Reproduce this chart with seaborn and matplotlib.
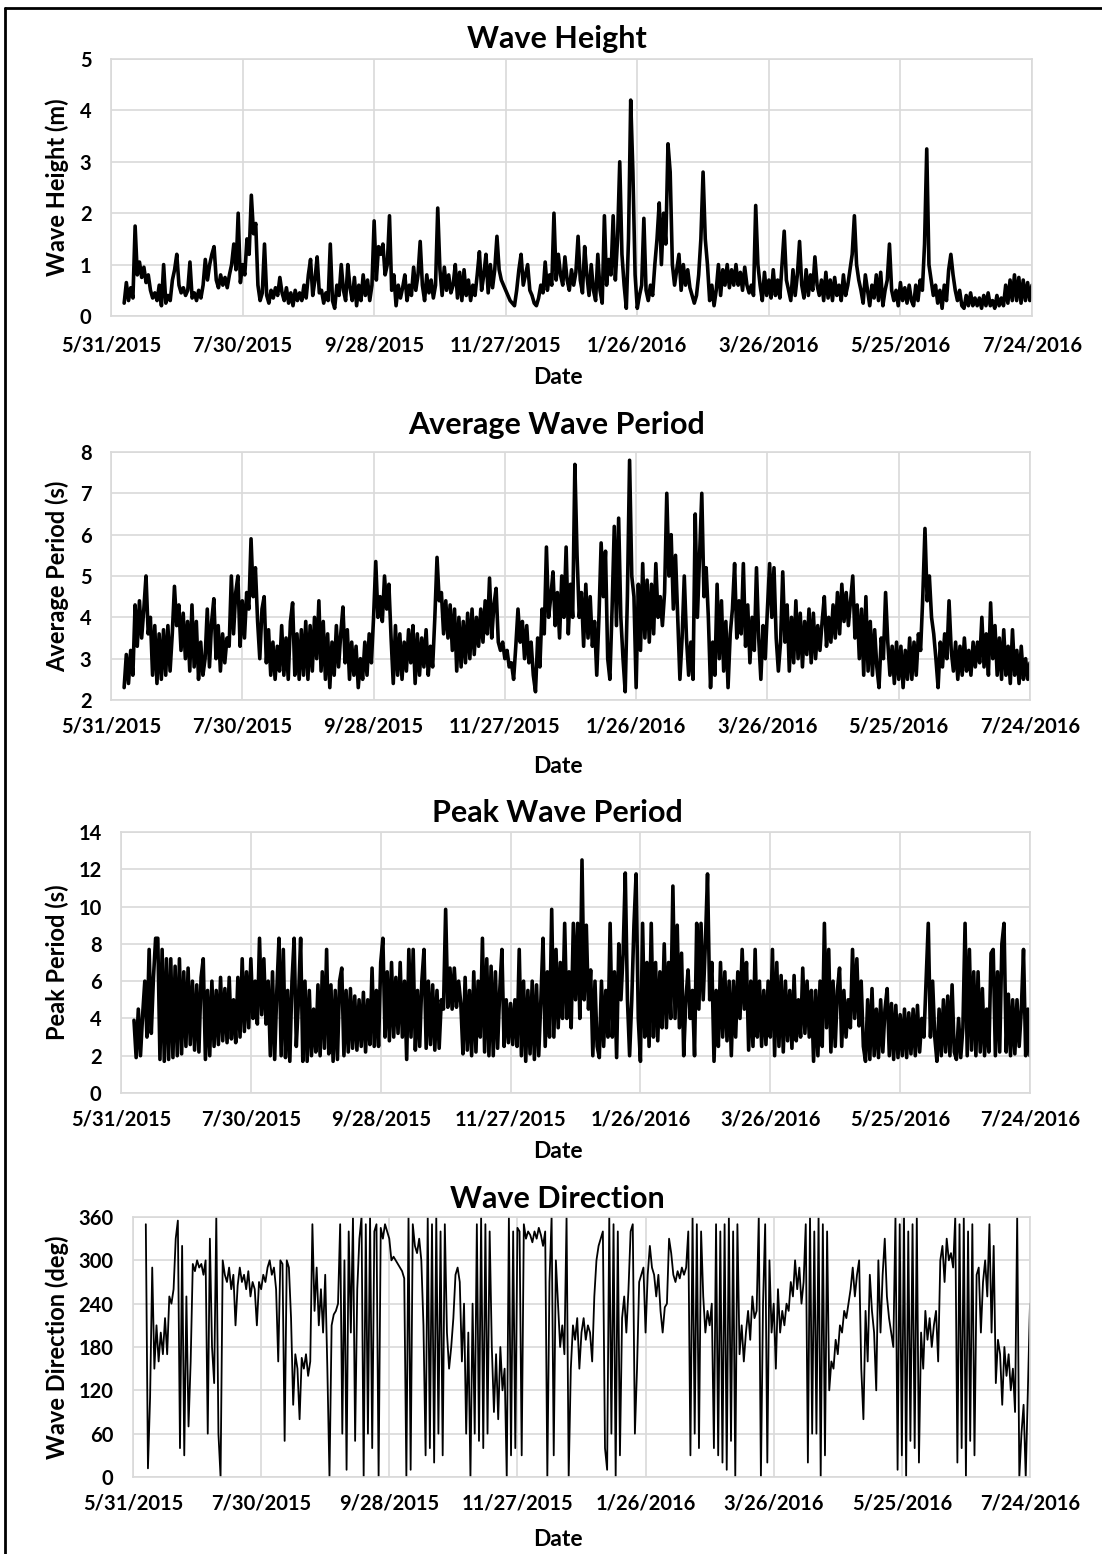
import numpy as np
import pandas as pd
import matplotlib
matplotlib.use("Agg")
import matplotlib.pyplot as plt
import seaborn as sns

# ---------------- data (one value per day from 6/6/2015) -------------
series_start = "2015-06-06"
step_hours = 24

wave_height = [
    0.25,0.65,0.3,0.55,0.35,1.75,0.8,1.05,0.75,0.95, 0.65,0.8,0.5,0.35,0.45,0.3,0.6,0.2,1.0,0.25, 0.4,0.3,0.7,0.9,1.2,0.6,0.45,0.55,0.4,0.5,
    1.05,0.35,0.45,0.3,0.5,0.35,0.6,1.1,0.7,1.0, 1.2,1.35,0.7,0.55,0.8,0.6,0.75,0.55,0.8,1.0, 1.4,0.9,2.0,0.65,1.0,0.8,1.5,1.2,2.35,1.6,
    1.8,0.6,0.3,0.45,1.4,0.4,0.25,0.5,0.35,0.55, 0.4,0.75,0.45,0.3,0.55,0.25,0.45,0.2,0.5,0.3, 0.45,0.3,0.6,0.35,0.8,1.1,0.4,0.7,1.15,0.45,
    0.5,0.25,0.45,0.3,1.4,0.3,0.15,0.6,0.4,1.0, 0.5,0.3,1.0,0.55,0.3,0.75,0.2,0.6,0.3,0.8, 0.4,0.7,0.3,0.6,1.85,0.7,1.35,1.2,1.4,0.8,
    1.0,1.95,0.5,0.8,0.2,0.6,0.35,0.55,0.8,0.3, 0.6,0.4,0.95,0.5,0.8,1.45,0.6,0.3,0.8,0.45, 0.7,0.35,0.6,2.1,0.9,0.4,0.95,0.5,0.8,0.45,
    0.6,1.0,0.35,0.85,0.3,0.9,0.4,0.7,0.3,0.6, 0.4,0.8,1.25,0.5,0.8,1.2,0.45,1.0,0.55,0.9, 1.55,0.9,0.7,0.6,0.5,0.4,0.3,0.25,0.2,0.5,
    0.9,1.2,0.6,0.8,1.0,0.5,0.4,0.25,0.2,0.35, 0.6,0.45,1.05,0.5,0.8,0.6,2.0,0.7,1.2,0.8, 0.6,1.15,0.7,0.5,0.9,0.6,0.85,1.55,0.7,0.45,
    1.35,0.8,0.4,1.0,0.5,0.3,1.2,0.5,0.25,1.95, 0.6,1.1,0.8,1.95,0.7,1.5,3.0,1.2,0.6,0.15, 1.5,4.2,2.8,0.8,0.15,0.4,0.6,1.9,0.5,0.3,
    0.6,0.4,1.0,1.5,2.2,1.0,2.0,1.4,3.35,2.8, 1.0,0.6,0.9,1.2,0.5,1.0,0.6,0.9,0.55,0.4, 0.25,0.4,0.8,1.5,2.8,1.5,1.0,0.3,0.6,0.2,
    0.5,1.0,0.4,0.9,0.6,1.0,0.55,0.9,0.6,1.0, 0.6,0.85,0.5,0.95,0.6,0.45,0.6,0.4,2.15,1.0, 0.6,0.3,0.85,0.4,0.7,0.35,0.9,0.4,0.7,0.35,
    1.0,1.65,0.7,0.5,0.3,0.9,0.4,0.8,1.45,0.6, 0.35,0.9,0.4,0.8,0.5,1.15,0.6,0.4,0.7,0.3, 0.85,0.35,0.7,0.3,0.75,0.4,0.6,0.3,0.8,0.4,
    0.6,0.9,1.2,1.95,1.0,0.7,0.5,0.25,0.8,0.5, 0.2,0.6,0.35,0.8,0.3,0.85,0.2,0.5,0.7,1.4, 0.5,0.3,0.5,0.2,0.65,0.3,0.55,0.25,0.6,0.3,
    0.2,0.6,0.3,0.7,0.5,1.4,3.25,1.0,0.7,0.4, 0.6,0.25,0.5,0.15,0.6,0.3,0.9,1.2,0.8,0.5, 0.3,0.5,0.2,0.15,0.4,0.2,0.45,0.2,0.35,0.2,
    0.35,0.15,0.4,0.2,0.45,0.2,0.3,0.15,0.4,0.2, 0.35,0.2,0.6,0.25,0.7,0.3,0.8,0.3,0.75,0.25, 0.7,0.3,0.65,0.3,0.6,
]

avg_period = [
    2.3,3.1,2.4,3.2,2.6,4.3,3.3,4.4,3.5,4.2, 5.0,3.6,4.0,2.6,3.8,2.4,3.6,2.5,3.7,2.6, 3.8,2.7,3.6,4.75,3.8,4.3,3.2,4.1,3.0,3.9,
    2.7,4.3,2.8,3.9,2.5,3.4,2.6,3.0,4.2,2.8, 3.9,4.45,3.0,3.8,2.7,3.6,2.9,3.5,3.3,5.0, 3.6,4.6,5.0,3.3,4.4,3.5,4.6,4.2,5.9,4.5,
    5.2,3.9,3.0,4.2,4.5,2.9,3.7,2.6,3.4,2.5, 3.3,2.7,3.8,2.6,3.5,2.5,3.9,4.35,2.6,3.6, 2.5,3.7,2.6,3.9,2.5,3.8,2.7,4.0,3.0,4.4,
    2.7,3.9,2.5,3.6,2.3,3.4,2.6,3.8,2.8,3.6, 4.25,2.9,3.7,2.5,3.4,2.6,3.3,2.3,3.0,2.5, 3.4,2.6,3.6,2.9,4.0,5.35,4.0,4.5,3.9,5.0,
    4.2,4.8,3.5,2.4,3.8,2.6,3.6,2.5,3.4,2.7, 3.7,2.9,3.8,2.4,3.6,2.6,3.5,2.8,3.7,2.6, 3.3,2.8,4.0,5.45,4.4,4.6,3.6,4.4,3.5,4.3,
    3.2,4.2,2.7,4.0,2.8,3.9,2.9,4.1,3.0,4.2, 3.1,4.0,3.3,4.2,3.4,4.4,3.6,4.95,3.5,4.3, 4.7,3.4,3.2,3.4,3.0,3.2,2.8,2.9,2.5,3.3,
    4.2,3.4,3.9,3.0,3.8,2.9,3.4,2.6,2.2,3.5, 2.8,4.2,3.6,5.7,4.0,4.5,5.1,3.8,4.6,3.5, 5.0,4.0,5.7,3.6,4.8,4.0,7.7,5.5,4.0,4.6,
    3.3,4.8,3.5,4.5,3.3,3.9,2.6,4.0,5.8,4.5, 5.6,3.0,2.5,4.2,6.2,3.8,6.4,4.0,3.0,2.2, 4.5,7.8,5.0,4.5,2.3,4.8,3.2,5.3,3.5,4.9,
    3.4,4.8,3.6,5.3,4.0,4.5,3.8,4.6,7.0,5.0, 6.0,4.2,5.5,4.0,2.5,3.5,5.0,3.5,2.6,3.4, 2.5,6.5,4.0,5.5,7.0,4.5,5.2,4.0,2.3,3.4,
    2.6,4.8,3.0,4.4,2.7,3.9,2.3,3.6,4.2,5.3, 3.5,4.4,3.6,5.3,3.3,4.3,2.9,4.0,3.2,5.2, 3.5,2.5,3.8,3.0,4.2,5.3,4.0,5.2,3.5,2.7,
    3.4,5.1,3.4,4.3,2.7,4.0,2.9,4.4,3.0,4.1, 2.8,3.9,3.1,4.2,2.9,4.1,3.0,3.8,3.2,3.9, 4.5,3.3,4.0,3.4,4.3,3.5,4.6,3.6,4.8,3.9,
    4.6,3.8,4.4,5.0,3.5,4.3,3.0,4.2,2.6,4.5, 2.7,3.9,2.6,3.7,2.8,2.3,3.5,3.0,4.6,3.4, 2.6,3.3,2.4,3.4,2.5,3.3,2.3,3.2,2.5,3.5,
    2.5,3.4,2.6,3.6,3.2,4.5,6.15,4.4,5.0,4.0, 3.6,3.0,2.3,3.4,2.8,3.6,3.0,4.4,3.2,2.7, 3.4,2.5,3.3,2.6,3.5,2.7,3.2,2.6,3.4,2.8,
    3.4,2.9,4.0,2.8,3.6,2.6,4.35,3.0,3.8,2.6, 3.5,2.5,3.7,2.6,3.3,2.4,3.7,2.6,3.2,2.4, 3.3,2.5,3.0,2.5,2.9,
]

peak_period = [
    3.9,1.9,4.5,2.0,4.2,6.0,3.0,7.7,3.2,6.2, 8.3,8.3,1.8,7.7,1.7,7.2,1.8,7.2,1.9,6.8, 2.0,7.2,2.1,6.5,2.5,6.7,2.6,6.0,2.3,5.8,
    2.2,6.2,7.2,1.8,5.5,2.0,6.0,2.5,5.5,2.6, 6.2,2.8,5.6,2.7,6.2,2.9,5.0,2.7,6.2,3.0, 7.2,3.3,6.5,3.5,7.2,4.0,6.0,3.7,8.3,4.2,
    7.2,3.7,6.0,2.0,6.5,1.8,5.5,8.3,2.0,7.7, 1.9,5.5,1.7,6.0,8.3,2.5,5.0,8.3,1.7,6.0, 1.7,5.5,2.0,4.5,2.2,5.8,2.0,6.5,2.4,7.7,
    2.1,5.8,1.7,5.5,1.8,6.0,6.7,2.0,5.5,2.2, 5.6,2.4,5.2,2.3,5.0,2.5,5.4,2.2,5.0,2.6, 6.7,2.5,5.5,2.5,7.0,8.3,3.0,6.5,2.8,7.0,
    3.0,6.2,3.2,7.0,3.0,6.0,1.8,7.7,3.0,7.7, 2.3,5.5,2.5,6.0,7.7,2.4,6.0,2.6,5.8,2.3, 5.5,2.4,5.0,4.5,9.85,4.6,6.7,4.5,6.7,4.6,
    6.0,4.8,2.1,6.2,2.3,5.5,2.0,6.5,2.2,6.0, 3.0,8.3,2.2,7.2,2.0,6.8,2.0,6.5,2.4,5.5, 7.7,2.5,5.0,2.7,4.8,2.6,5.0,2.5,7.7,2.0,
    6.0,1.7,5.5,2.1,6.0,1.8,5.8,2.0,5.0,8.3, 2.5,6.5,3.0,9.85,3.0,7.7,3.5,7.0,4.0,9.1, 4.0,6.5,3.5,9.1,5.0,9.1,4.0,12.5,5.0,9.0,
    4.5,6.6,2.0,6.0,2.5,1.9,6.0,2.5,5.5,3.0, 9.1,3.0,6.5,1.9,8.0,5.0,7.5,11.8,5.0,2.0, 5.0,9.0,11.75,4.0,1.7,9.1,3.0,7.0,2.5,9.1,
    3.0,7.0,2.8,6.5,3.5,8.0,3.5,7.0,4.0,11.1, 4.0,9.0,3.5,7.5,2.0,5.0,6.6,4.0,5.5,2.0, 9.1,4.5,9.1,5.0,8.0,11.75,5.0,7.0,1.7,5.5,
    2.5,7.0,3.0,6.5,2.8,6.0,2.0,6.0,3.0,6.5, 4.0,7.7,4.5,7.0,2.3,6.0,2.5,7.7,3.0,6.0, 2.5,5.5,2.6,6.0,3.0,7.7,2.0,7.0,2.5,6.3,
    2.2,6.0,2.8,5.5,2.4,6.3,2.8,5.0,3.0,6.7, 3.2,6.0,3.0,5.5,1.7,5.5,2.0,6.0,2.5,9.1, 3.5,7.7,2.2,6.0,2.5,5.5,6.7,2.5,5.5,3.0,
    5.0,3.5,7.7,4.0,7.2,3.6,6.0,2.5,1.7,5.0, 1.8,5.6,2.0,4.5,1.9,5.0,2.2,4.5,5.6,2.0, 4.8,1.8,4.7,1.9,4.2,2.0,4.5,1.9,4.3,2.1,
    4.5,2.0,4.7,2.2,4.0,3.0,6.0,9.1,3.0,6.0, 3.0,1.7,4.5,2.0,5.0,2.2,5.2,2.0,5.8,2.2, 1.8,4.0,1.9,3.5,9.1,2.0,7.7,2.3,6.5,2.0,
    6.5,2.2,5.6,2.0,4.5,2.2,7.5,7.7,2.0,6.5, 2.2,8.0,9.1,2.2,5.3,2.0,5.0,2.1,5.0,2.5, 4.5,7.7,2.0,4.5,2.0,
]

wave_direction = [
    350,12,110,290,150,210,160,200,170,220, 170,250,240,260,330,355,40,320,30,250, 70,160,295,285,300,290,295,280,300,60,
    330,180,130,360,60,0,300,280,270,290, 260,280,210,265,290,270,280,260,285,250, 270,260,210,270,260,280,270,290,300,280,
    290,260,160,300,295,50,300,290,220,100, 170,150,80,165,150,170,140,160,350,230, 290,210,260,200,280,150,0,210,225,230,
    240,350,60,300,10,340,200,360,50,260, 330,360,0,350,60,360,40,340,350,0, 345,330,350,340,330,300,305,300,295,290,
    285,275,0,360,10,350,320,310,330,300, 210,30,360,40,350,20,360,60,340,30, 350,200,150,180,220,280,290,270,160,240,
    60,200,0,240,60,350,50,360,40,350, 60,340,180,90,170,80,180,120,150,0, 360,30,340,40,345,340,30,350,330,340,
    335,325,340,330,345,335,320,340,0,270, 360,30,300,240,180,210,170,360,0,150, 210,190,220,150,200,220,190,210,200,160,
    250,300,320,330,340,40,10,360,60,350, 0,340,30,220,250,200,260,340,350,60, 150,270,280,290,200,280,320,290,280,250,
    280,230,200,235,240,330,310,280,270,285, 275,290,280,290,340,30,360,60,350,40, 340,250,200,230,210,240,40,350,30,340,
    20,350,10,360,50,340,0,350,170,210, 160,200,230,190,250,220,230,360,0,240, 350,20,300,200,240,150,260,200,230,210,
    240,230,270,250,300,260,290,240,270,350, 20,360,60,340,60,360,0,350,30,340, 120,160,150,190,170,210,200,230,220,240,
    260,290,250,280,300,150,80,230,160,280, 230,200,120,300,200,280,330,250,220,200, 180,360,10,350,30,360,0,340,50,350,
    40,360,20,200,150,230,190,220,180,210, 230,160,300,320,270,330,300,310,290,360, 20,350,40,360,0,340,50,350,30,280,
    290,200,270,300,250,350,200,320,130,190, 170,100,180,140,170,120,150,90,360,0, 60,100,0,120,240,
]

titles = ["Wave Height", "Average Wave Period", "Peak Wave Period", "Wave Direction"]
ylabels = ["Wave Height (m)", "Average Period (s)", "Peak Period (s)", "Wave Direction (deg)"]
xlabel = "Date"
tick_labels = ["5/31/2015", "7/30/2015", "9/28/2015", "11/27/2015",
               "1/26/2016", "3/26/2016", "5/25/2016", "7/24/2016"]
y_ticks = [list(range(0, 6, 1)), list(range(2, 9, 1)), list(range(0, 15, 2)), list(range(0, 361, 60))]

# ---------------- layout (pixel boxes of the plot areas) ----------------
W, H = 1102, 1554
boxes = [(111, 59, 1032, 316), (111, 452, 1030, 700), (121, 832, 1030, 1093), (133, 1217, 1030, 1477)]
title_base = [48, 434, 822, 1208]
date_y = [378, 767, 1152, 1540]
line_w = [2.6, 2.6, 2.6, 1.3]

sns.set_theme(style="white")
plt.rcParams['font.family'] = ['Lato', 'DejaVu Sans']
plt.rcParams['font.weight'] = 'bold'

fig = plt.figure(figsize=(W / 100, H / 100), dpi=100)

series = [wave_height, avg_period, peak_period, wave_direction]
tick_dates = pd.to_datetime(tick_labels, format="%m/%d/%Y")
grid_c = "#d9d9d9"

for i, vals in enumerate(series):
    l, t, r, b = boxes[i]
    ax = fig.add_axes([l / W, 1 - b / H, (r - l) / W, (b - t) / H])
    dates = pd.Timestamp(series_start) + pd.to_timedelta(np.arange(len(vals)) * step_hours, unit="h")
    df = pd.DataFrame({"date": dates, "value": vals})
    sns.lineplot(data=df, x="date", y="value", ax=ax, color="black",
                 linewidth=line_w[i], estimator=None)
    ax.set_xlim(tick_dates[0], tick_dates[-1])
    ax.set_ylim(y_ticks[i][0], y_ticks[i][-1])
    ax.set_xticks(tick_dates)
    ax.set_xticklabels(tick_labels)
    ax.set_yticks(y_ticks[i])
    ax.set_yticklabels([str(v) for v in y_ticks[i]])
    ax.grid(True, color=grid_c, linewidth=1.2)
    ax.set_axisbelow(True)
    for s in ax.spines.values():
        s.set_color(grid_c)
        s.set_linewidth(1.2)
    if i == 0:
        ax.tick_params(axis="x", length=7, width=1.2, color=grid_c, direction="out", pad=7)
    else:
        ax.tick_params(axis="x", length=0, pad=12)
    ax.tick_params(axis="y", length=0, pad=14)
    ax.tick_params(labelsize=14.5, labelcolor="black")
    for lab in ax.get_xticklabels() + ax.get_yticklabels():
        lab.set_fontweight("bold")
    ax.set_xlabel(xlabel, fontsize=16.5, fontweight="bold", color="black")
    ax.xaxis.set_label_coords(558 / W, 1 - date_y[i] / H, transform=fig.transFigure)
    ax.xaxis.label.set_verticalalignment("center")
    ax.set_ylabel(ylabels[i], fontsize=17, fontweight="bold", color="black")
    ax.yaxis.set_label_coords(57 / W, 1 - (t + b) / 2 / H, transform=fig.transFigure)
    ax.yaxis.label.set_verticalalignment("center")
    fig.text(557 / W, 1 - title_base[i] / H, titles[i], ha="center", va="baseline",
             fontsize=22, fontweight="bold", color="black")

# outer frame of the original picture
fig.add_artist(plt.Line2D([5 / W, 5 / W], [0, 1 - 8 / H], transform=fig.transFigure, color="black", lw=2))
fig.add_artist(plt.Line2D([5 / W, 1], [1 - 8 / H, 1 - 8 / H], transform=fig.transFigure, color="black", lw=2))

fig.savefig("out.png", dpi=100)
